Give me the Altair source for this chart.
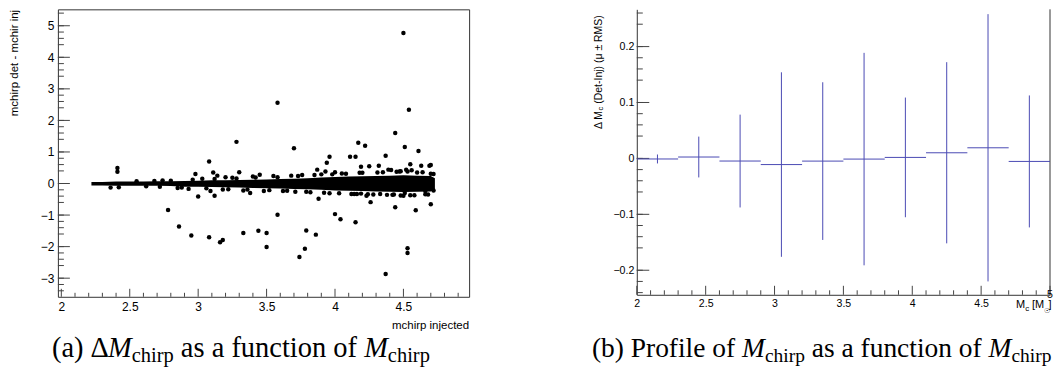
import altair as alt
import pandas as pd

SANS = "Liberation Sans"
SERIF = "Liberation Serif"
TICK = "#444444"
FRAME = "#333333"
BLUE = "#4a4ab4"

# ---------------- (a) scatter: dense core band (read envelope) + isolated points
band_x = [2.22, 2.30, 2.40, 2.50, 2.60, 2.70, 2.80, 2.90, 3.00, 3.10, 3.20, 3.30, 3.40,
          3.50, 3.60, 3.70, 3.80, 3.90, 4.00, 4.10, 4.20, 4.30, 4.40, 4.50, 4.60, 4.70, 4.73]
band_hi = [0.05, 0.05, 0.06, 0.06, 0.06, 0.07, 0.07, 0.08, 0.09, 0.10, 0.10, 0.11, 0.12,
           0.13, 0.14, 0.15, 0.17, 0.19, 0.21, 0.22, 0.23, 0.24, 0.25, 0.26, 0.25, 0.24, 0.17]
band_lo = [-0.06, -0.06, -0.07, -0.07, -0.07, -0.07, -0.08, -0.10, -0.10, -0.11, -0.12, -0.13, -0.14,
           -0.15, -0.16, -0.17, -0.18, -0.20, -0.22, -0.23, -0.24, -0.25, -0.26, -0.27, -0.26, -0.25, -0.18]

out_x = [4.50, 3.58, 4.54, 3.28, 3.70, 4.44, 4.51, 4.61, 4.17, 4.22, 4.11, 4.15, 3.96, 3.94,
         4.37, 3.08, 4.55, 4.63, 4.69, 4.70, 4.32, 4.19, 4.25, 2.41, 2.41, 3.11, 3.30, 2.98,
         3.14, 3.20, 3.45, 3.87, 3.93, 4.39, 4.41, 4.52, 4.48, 4.56, 4.00,
         2.78, 2.86, 2.95, 3.08, 3.16, 3.18, 3.33, 3.44, 3.50, 3.50, 3.58, 3.74, 3.78, 3.79,
         3.86, 3.88, 4.00, 4.04, 4.15, 4.37, 4.44, 4.53, 4.53, 4.59, 4.70, 3.00, 3.09, 3.12,
         3.38, 3.71, 4.16, 4.19, 4.23, 4.26, 4.33, 4.43, 4.48, 4.51, 4.66, 4.72,
         2.36, 2.42, 2.74, 2.85, 2.93, 3.03, 3.18, 3.25, 3.33, 3.40, 3.48, 3.55, 3.62, 3.68,
         3.76, 3.82, 3.90, 3.96, 4.05, 4.12, 4.20, 4.28, 4.35, 4.42, 4.47, 4.55, 4.60, 4.66, 4.70,
         2.55, 2.62, 2.68, 2.72, 2.80, 2.88, 2.96, 3.06, 3.12, 3.22, 3.28, 3.36, 3.42, 3.52,
         3.58, 3.65, 3.73, 3.79, 3.85, 3.92, 3.98, 4.03, 4.08, 4.14, 4.18, 4.24, 4.31, 4.38,
         4.45, 4.50, 4.53, 4.58, 4.64, 4.68, 4.72]
out_y = [4.77, 2.56, 2.34, 1.32, 1.12, 1.60, 1.16, 1.03, 1.29, 1.20, 0.85, 0.85, 0.85, 0.66,
         0.88, 0.70, 0.61, 0.56, 0.56, 0.59, 0.56, 0.53, 0.55, 0.49, 0.37, 0.35, 0.36, 0.30,
         0.25, 0.20, 0.28, 0.44, 0.38, 0.44, 0.43, 0.44, 0.39, 0.42, 0.36,
         -0.84, -1.36, -1.65, -1.70, -1.86, -1.79, -1.57, -1.50, -1.57, -2.01, -0.99, -2.33, -2.07, -1.49,
         -1.62, -0.48, -0.97, -1.13, -1.23, -2.87, -0.75, -2.05, -2.20, -0.85, -0.66, -0.41, -0.24, -0.39,
         -0.30, -0.26, -0.33, -0.32, -0.39, -0.59, -0.33, -0.35, -0.38, -0.30, -0.24, -0.22,
         -0.13, -0.12, 0.10, -0.14, -0.17, 0.15, -0.19, 0.18, -0.22, 0.22, -0.24, 0.24, -0.24, 0.25,
         0.27, -0.28, 0.29, -0.31, 0.32, -0.33, 0.34, -0.35, 0.36, -0.36, 0.38, -0.37, 0.35, -0.34, 0.31,
         0.07, -0.09, 0.08, -0.10, 0.09, -0.13, 0.12, -0.15, 0.14, -0.18, 0.16, -0.19, 0.19, -0.21,
         0.20, -0.23, 0.24, -0.26, 0.27, -0.29, 0.29, -0.31, 0.31, -0.33, 0.34, -0.34, 0.35, -0.36,
         0.37, -0.39, 0.38, -0.37, 0.36, -0.35, 0.30]

# ---------------- (b) profile: bins, mean and RMS
bin_edges = [2.0, 2.3, 2.6, 2.9, 3.2, 3.5, 3.8, 4.1, 4.4, 4.7, 5.0]
prof_mean = [-0.001, 0.0025, -0.0047, -0.011, -0.0048, -0.0012, 0.0018, 0.0101, 0.019, -0.0054]
prof_rms = [0.008, 0.0365, 0.083, 0.165, 0.141, 0.190, 0.107, 0.162, 0.239, 0.118]

# ---------------- tick values
lx_major = [2, 2.5, 3, 3.5, 4, 4.5]
lx_minor = [round(2 + 0.1 * i, 2) for i in range(1, 30) if i % 5]
ly_major = [-3, -2, -1, 0, 1, 2, 3, 4, 5]
ly_minor = [round(-3.4 + 0.2 * i, 2) for i in range(0, 45) if (i + 2) % 5]
rx_major = [2, 2.5, 3, 3.5, 4, 4.5, 5]
rx_labels = [2, 2.5, 3, 3.5, 4, 4.5]
rx_minor = [round(2 + 0.1 * i, 2) for i in range(1, 30) if i % 5]
ry_major = [-0.2, -0.1, 0, 0.1, 0.2]
ry_minor = [round(-0.24 + 0.02 * i, 3) for i in range(0, 26) if (i + 2) % 5]

LW, LH = 412, 288
RW, RH = 414, 286
DOT = 20


def one():
    return pd.DataFrame({"k": [0]})


def label(t, x, y, size, font=SANS, align="left", baseline="alphabetic", angle=0, italic=False):
    kw = dict(text=t, font=font, fontSize=size, align=align, baseline=baseline, color="black")
    if angle:
        kw["angle"] = angle
    if italic:
        kw["fontStyle"] = "italic"
    return alt.Chart(one()).mark_text(**kw).encode(x=alt.value(x), y=alt.value(y))


def xticks(vals, length, H, sc, ax):
    return alt.Chart(pd.DataFrame({"v": vals})).mark_rule(color=TICK, strokeWidth=1).encode(
        x=alt.X("v:Q", scale=sc, axis=ax), y=alt.value(H), y2=alt.value(H - length))


def yticks(vals, length, sc, ax):
    return alt.Chart(pd.DataFrame({"v": vals})).mark_rule(color=TICK, strokeWidth=1).encode(
        y=alt.Y("v:Q", scale=sc, axis=ax), x=alt.value(0), x2=alt.value(length))


TIMES = {'(': 333, ')': 333, 'a': 444, 'b': 500, ' ': 250, 'Δ': 612, 'P': 556, 'r': 333,
         'o': 500, 'f': 333, 'i': 278, 'l': 278, 'e': 444, 's': 389, 'u': 500, 'n': 500,
         'c': 444, 't': 278, 'h': 500, 'p': 500, 'M': 833}


def caption(pieces, x0, y0, cf, cs, drop=5):
    layers = []
    x = x0
    for t, kind in pieces:
        size = cs if kind == "sub" else cf
        w = sum(TIMES.get(ch, 500) for ch in t) * size / 1000
        if kind != "sp":
            layers.append(label(t, x, y0 + (drop if kind == "sub" else 0), size, font=SERIF,
                                italic=(kind == "it")))
        x += w
    return layers


# ================= left panel =================
sxl = alt.Scale(domain=[1.975, 4.98], nice=False, zero=False)
syl = alt.Scale(domain=[-3.59, 5.52], nice=False, zero=False)
axl_x = alt.Axis(values=lx_major, format="~g", ticks=False, domain=False, grid=False,
                 labelFlush=False, labelOverlap=False, labelPadding=5, labelFont=SANS,
                 labelFontSize=12, labelColor="black", title=None)
axl_y = alt.Axis(values=ly_major, format="~g", ticks=False, domain=False, grid=False,
                 labelOverlap=False, labelPadding=4, labelFont=SANS, labelFontSize=12,
                 labelColor="black", title=None)

band_df = pd.DataFrame({"x": band_x, "hi": band_hi, "lo": band_lo})
out_df = pd.DataFrame({"x": out_x, "y": out_y})

band = alt.Chart(band_df).mark_area(color="black", opacity=1).encode(
    x=alt.X("x:Q", scale=sxl, axis=axl_x), y=alt.Y("hi:Q", scale=syl, axis=axl_y), y2="lo:Q")
pts = alt.Chart(out_df).mark_circle(color="black", size=DOT, opacity=1).encode(
    x=alt.X("x:Q", scale=sxl, axis=axl_x), y=alt.Y("y:Q", scale=syl, axis=axl_y))

left_layers = [
    band, pts,
    xticks(lx_major, 8, LH, sxl, axl_x), xticks(lx_minor, 4, LH, sxl, axl_x),
    yticks(ly_major, 12, syl, axl_y), yticks(ly_minor, 6, syl, axl_y),
    label("mchirp det - mchir inj", -43, 0.5, 11.5, align="right", baseline="middle", angle=270),
    label("mchirp injected", LW, 320, 11.5, align="right"),
]
left_layers += caption([("(a) Δ", "n"), ("M", "it"), ("chirp", "sub"), (" ", "sp"),
                        ("as a function of", "n"), (" ", "sp"), ("M", "it"), ("chirp", "sub")],
                       -6, 348, 28.5, 20.5)
left = alt.layer(*left_layers).properties(width=LW, height=LH)

# ================= right panel =================
sxr = alt.Scale(domain=[2, 5], nice=False, zero=False)
syr = alt.Scale(domain=[-0.2439, 0.2666], nice=False, zero=False)
axr_x = alt.Axis(values=rx_labels, format="~g", ticks=False, domain=True, domainColor=FRAME,
                 domainWidth=1, grid=False, labelFlush=False, labelOverlap=False, labelPadding=4,
                 labelFont=SANS, labelFontSize=10.6, labelColor="black", title=None)
axr_y = alt.Axis(values=ry_major, format="~g", ticks=False, domain=True, domainColor=FRAME,
                 domainWidth=1, grid=False, labelOverlap=False, labelPadding=3, labelFont=SANS,
                 labelFontSize=10.6, labelColor="black", title=None)

prof_df = pd.DataFrame({
    "lo": bin_edges[:-1], "hi": bin_edges[1:], "mean": prof_mean, "rms": prof_rms})
prof_df["c"] = (prof_df["lo"] + prof_df["hi"]) / 2
prof_df["ylo"] = prof_df["mean"] - prof_df["rms"]
prof_df["yhi"] = prof_df["mean"] + prof_df["rms"]

hbar = alt.Chart(prof_df).mark_rule(color=BLUE, strokeWidth=1).encode(
    x=alt.X("lo:Q", scale=sxr, axis=axr_x), x2="hi:Q", y=alt.Y("mean:Q", scale=syr, axis=axr_y))
vbar = alt.Chart(prof_df).mark_rule(color=BLUE, strokeWidth=1).encode(
    x=alt.X("c:Q", scale=sxr, axis=axr_x), y=alt.Y("ylo:Q", scale=syr, axis=axr_y), y2="yhi:Q")
rframe = alt.Chart(one()).mark_rule(color=FRAME, strokeWidth=1).encode(
    x=alt.value(RW), y=alt.value(0), y2=alt.value(RH))

right_layers = [
    rframe,
    xticks(rx_major, 9, RH, sxr, axr_x), xticks(rx_minor, 4.5, RH, sxr, axr_x),
    yticks(ry_major, 12.5, syr, axr_y), yticks(ry_minor, 6, syr, axr_y),
    hbar, vbar,
    label("5", RW, 289, 10.6, align="center"),
    # y title  "Δ M_c (Det-Inj) (μ ± RMS)"
    label("Δ M", -38, 120, 10.5, baseline="middle", angle=270),
    label("c", -35.5, 101.3, 7.5, baseline="middle", angle=270),
    label("(Det-Inj) (μ ± RMS)", -38, 94.6, 10.5, baseline="middle", angle=270),
    # x title  "M_c [M_☉]"
    label("M", RW - 34, 299, 11),
    label("c", RW - 24.8, 302, 8),
    label("[M", RW - 18, 299, 11),
    label("☉", RW - 6.5, 304, 7.5),
    label("]", RW - 1.5, 299, 11),
]
right_layers += caption([("(b) Profile of", "n"), (" ", "sp"), ("M", "it"), ("chirp", "sub"),
                         (" ", "sp"), ("as a function of", "n"), (" ", "sp"), ("M", "it"),
                         ("chirp", "sub")], -45, 348, 27.5, 19.5)
right = alt.layer(*right_layers).properties(
    width=RW, height=RH, view=alt.ViewBackground(stroke="transparent"))

chart = alt.hconcat(left, right, spacing=168, bounds="flush").properties(
    padding={"left": 0, "top": 0, "right": 0, "bottom": 0}
).configure_view(stroke=FRAME, strokeWidth=1)

chart.save("out.html", embed_options={"renderer": "svg", "actions": False})
